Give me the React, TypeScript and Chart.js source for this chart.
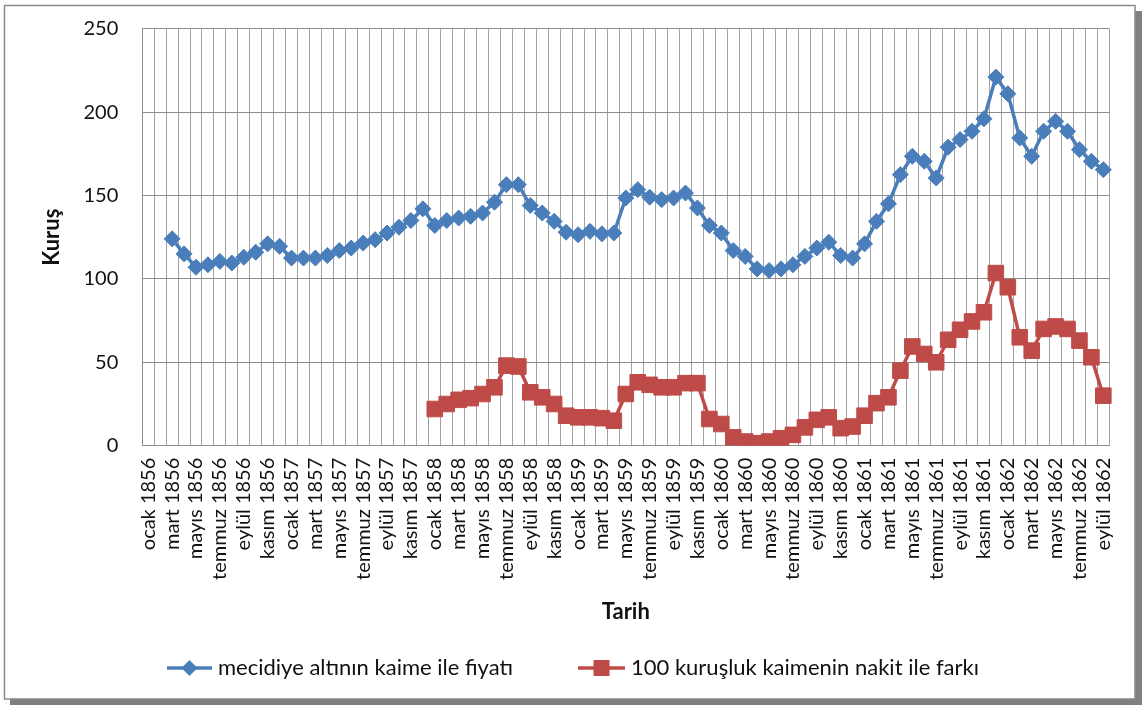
import React, { useEffect, useRef } from 'react';
import { Chart, registerables } from 'chart.js';

Chart.register(...registerables);

const MONTHS = ['ocak', 'şubat', 'mart', 'nisan', 'mayıs', 'haziran', 'temmuz', 'ağustos', 'eylül', 'ekim', 'kasım', 'aralık'];
const YEARS = [1856, 1857, 1858, 1859, 1860, 1861, 1862];
const LAST_MONTH_1862 = 9; // eylül 1862 is the final category

const CATEGORIES: string[] = [];
YEARS.forEach((y) => {
  MONTHS.forEach((m, i) => {
    if (y === 1862 && i >= LAST_MONTH_1862) return;
    CATEGORIES.push(`${m} ${y}`);
  });
});

const SERIES_NAMES = ['mecidiye altının kaime ile fiyatı', '100 kuruşluk kaimenin nakit ile farkı'];

const ALTIN_FIYATI: (number | null)[] = [
  null, null, 124, 115, 107, 108.5, 110.5, 109.5, 113, 116, 121, 119.5,
  112.5, 112.5, 112.5, 114, 117, 118.5, 121.5, 123.5, 127.5, 131, 135, 142,
  132, 135, 136.5, 137.5, 139.5, 146, 156.5, 156.5, 144, 139.5, 134.5, 128,
  126.5, 128.5, 127, 127.5, 148.5, 153.5, 149, 147.5, 148.5, 151.5, 142.5, 132,
  127.5, 117, 113.5, 106, 105, 106, 108.5, 113.5, 118.5, 122, 114, 112.5,
  121, 134.5, 145, 162.5, 173.5, 170.5, 160.5, 179, 183.5, 188.5, 196, 221,
  211, 184.5, 173.5, 188.5, 194.5, 188.5, 177.5, 170.5, 165.5,
];

const KAIME_FARKI: (number | null)[] = [
  null, null, null, null, null, null, null, null, null, null, null, null,
  null, null, null, null, null, null, null, null, null, null, null, null,
  22, 25, 27.5, 28.5, 31, 35, 48, 47.5, 32, 29, 25, 18,
  17, 17, 16.5, 15, 31, 38, 36.5, 35, 35, 37.5, 37.5, 16,
  13, 5, 2.5, 1.5, 2.5, 4.5, 6.5, 11, 15.5, 17, 10.5, 11.5,
  18, 25.5, 29, 45, 59.5, 55, 50, 63.5, 69.5, 74.5, 80, 103.5,
  95, 65, 57, 70, 71.5, 70, 63, 53, 30,
];

const Y_TICKS = [0, 50, 100, 150, 200, 250];

const BLUE = '#4A7EBB';
const RED = '#BE4B48';
const FONT = 'Lato, "Open Sans", sans-serif';

const framePlugin = {
  id: 'frame',
  beforeDraw(chart: any) {
    const ctx = chart.ctx;
    const W = chart.width;
    const H = chart.height;
    ctx.save();
    ctx.fillStyle = '#ffffff';
    ctx.fillRect(0, 0, W, H);
    ctx.fillStyle = '#7f7f7f';
    ctx.fillRect(10, 11, W - 10, H - 11);
    ctx.fillStyle = '#ffffff';
    ctx.fillRect(4, 5, 1131, 694);
    ctx.strokeStyle = '#8a8a8a';
    ctx.lineWidth = 1.5;
    ctx.strokeRect(4.5, 5.5, 1130.5, 693.5);
    ctx.restore();
  },
};

const legendPlugin = {
  id: 'lineLegend',
  afterDraw(chart: any) {
    const ctx = chart.ctx;
    const ds = chart.data.datasets;
    const y = 668;
    const items = [
      { x0: 167, x1: 212, tx: 218, style: 'diamond' },
      { x0: 578, x1: 625, tx: 631, style: 'square' },
    ];
    ctx.save();
    items.forEach((it, i) => {
      const d = ds[i];
      ctx.strokeStyle = d.borderColor;
      ctx.lineWidth = 3.5;
      ctx.beginPath();
      ctx.moveTo(it.x0, y);
      ctx.lineTo(it.x1, y);
      ctx.stroke();
      const cx = (it.x0 + it.x1) / 2;
      ctx.fillStyle = d.borderColor;
      ctx.beginPath();
      if (it.style === 'diamond') {
        const r = 8;
        ctx.moveTo(cx - r, y);
        ctx.lineTo(cx, y - r);
        ctx.lineTo(cx + r, y);
        ctx.lineTo(cx, y + r);
        ctx.closePath();
      } else {
        const s = 8;
        ctx.rect(cx - s, y - s, 2 * s, 2 * s);
      }
      ctx.fill();
      ctx.fillStyle = '#111111';
      ctx.font = `22px ${FONT}`;
      ctx.textBaseline = 'middle';
      ctx.textAlign = 'left';
      ctx.fillText(d.label, it.tx, y);
    });
    ctx.restore();
  },
};

export default function App() {
  const ref = useRef<HTMLCanvasElement | null>(null);

  useEffect(() => {
    if (!ref.current) return;
    const chart = new Chart(ref.current, {
      type: 'line',
      data: {
        labels: CATEGORIES,
        datasets: [
          {
            label: SERIES_NAMES[0],
            data: ALTIN_FIYATI,
            borderColor: BLUE,
            backgroundColor: BLUE,
            borderWidth: 3.5,
            pointStyle: 'rectRot',
            pointRadius: 8,
            pointBorderWidth: 1,
            pointBorderColor: BLUE,
            pointBackgroundColor: BLUE,
            tension: 0,
            spanGaps: false,
          },
          {
            label: SERIES_NAMES[1],
            data: KAIME_FARKI,
            borderColor: RED,
            backgroundColor: RED,
            borderWidth: 3.5,
            pointStyle: 'rect',
            pointRadius: 11,
            pointBorderWidth: 1,
            pointBorderColor: RED,
            pointBackgroundColor: RED,
            tension: 0,
            spanGaps: false,
          },
        ],
      },
      options: {
        responsive: false,
        animation: false,
        layout: { padding: { left: 35, top: 28.7, right: 32.7, bottom: 78.8 } },
        plugins: {
          legend: { display: false },
          tooltip: { enabled: false },
        },
        scales: {
          x: {
            type: 'category',
            offset: true,
            grid: { offset: true, color: '#a3a3a3', lineWidth: 1, drawTicks: false },
            border: { color: '#8c8c8c' },
            ticks: {
              autoSkip: false,
              maxRotation: 90,
              minRotation: 90,
              padding: 12,
              color: '#111111',
              font: { family: FONT, size: 20 },
              callback: (_v: any, idx: number) => (idx % 2 === 0 ? CATEGORIES[idx] : ''),
            },
            title: {
              display: true,
              text: 'Tarih',
              color: '#111111',
              font: { family: FONT, size: 22, weight: 'bold' },
              padding: { top: 4, bottom: 1 },
            },
            afterFit: (s: any) => {
              s.height = 180.5;
            },
          },
          y: {
            min: 0,
            max: 250,
            afterBuildTicks: (s: any) => {
              s.ticks = Y_TICKS.map((v) => ({ value: v }));
            },
            grid: { color: '#8c8c8c', lineWidth: 1, drawTicks: false },
            border: { color: '#8c8c8c' },
            ticks: {
              padding: 24,
              color: '#111111',
              font: { family: FONT, size: 20 },
            },
            title: {
              display: true,
              text: 'Kuruş',
              color: '#111111',
              font: { family: FONT, size: 22, weight: 'bold' },
              padding: { top: 4, bottom: 4 },
            },
            afterFit: (s: any) => {
              s.width = 107.3;
              s.paddingTop = 0;
              s.paddingBottom = 0;
            },
          },
        },
      },
      plugins: [framePlugin, legendPlugin],
    });
    return () => chart.destroy();
  }, []);

  return (
    <div style={{ position: 'absolute', left: 0, top: 0, width: 1142, height: 705 }}>
      <canvas ref={ref} width={1142} height={705} style={{ width: 1142, height: 705, display: 'block' }} />
    </div>
  );
}
